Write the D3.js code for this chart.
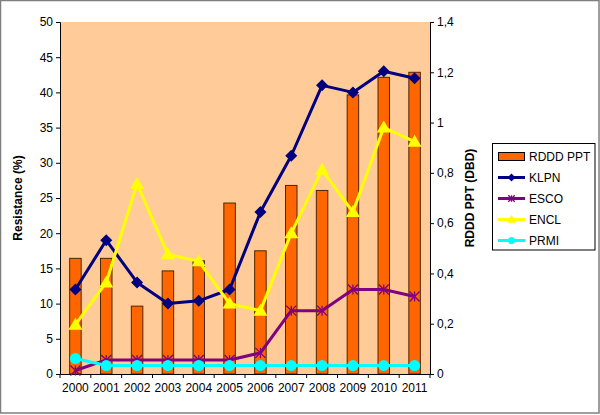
<!DOCTYPE html>
<html>
<head>
<meta charset="utf-8">
<title>Resistance chart</title>
<script src="https://d3js.org/d3.v7.min.js"></script>
<style>
  body { margin: 0; background: #fff; }
  svg text { font-family: "Liberation Sans", Arial, sans-serif; }
</style>
</head>
<body>
<svg id="chart" width="600" height="415"></svg>
<script>
// data
const years = ["2000","2001","2002","2003","2004","2005","2006","2007","2008","2009","2010","2011"];
const rddd = [0.46, 0.46, 0.27, 0.41, 0.45, 0.68, 0.49, 0.75, 0.73, 1.11, 1.18, 1.20];
const klpn = [12, 19, 13, 10, 10.4, 12, 23, 31, 41, 40, 43, 42];
const esco = [0.5, 2, 2, 2, 2, 2, 3, 9, 9, 12, 12, 11];
const encl = [7, 13, 27, 17, 16, 10, 9, 20, 29, 23, 35, 33];
const prmi = [2.2, 1.2, 1.2, 1.2, 1.2, 1.2, 1.2, 1.2, 1.2, 1.2, 1.2, 1.2];
const leftTicks = d3.range(0, 51, 5);
const rightTicks = [0, 0.2, 0.4, 0.6, 0.8, 1, 1.2, 1.4];

const svg = d3.select("#chart");
const m = {left: 60, right: 430, top: 22, bottom: 374};

// outer frame
svg.append("rect").attr("x", 0.5).attr("y", 0.5).attr("width", 598.5).attr("height", 412.5)
  .attr("fill", "#fff").attr("stroke", "#7f7f7f").attr("stroke-width", 1.5);

const x = d3.scaleBand().domain(years).range([m.left, m.right]);
const yL = d3.scaleLinear().domain([0, 50]).range([m.bottom, m.top]);
const yR = d3.scaleLinear().domain([0, 1.4]).range([m.bottom, m.top]);

svg.append("rect").attr("x", m.left).attr("y", m.top)
  .attr("width", m.right - m.left).attr("height", m.bottom - m.top)
  .attr("fill", "#ffcc99");

// bars
const bw = 11.5;
svg.append("g").selectAll("rect").data(rddd).join("rect")
  .attr("x", (d, i) => x(years[i]) + x.bandwidth() / 2 - bw / 2)
  .attr("y", d => yR(d))
  .attr("width", bw)
  .attr("height", d => yR(0) - yR(d))
  .attr("fill", "#ff6600").attr("stroke", "#4d2600").attr("stroke-width", 1);

// axes
const fmtR = d => d3.format("~g")(d).replace(".", ",");
const gl = svg.append("g").attr("transform", `translate(${m.left},0)`)
  .call(d3.axisLeft(yL).tickValues(leftTicks).tickSize(4).tickPadding(3));
const gr = svg.append("g").attr("transform", `translate(${m.right},0)`)
  .call(d3.axisRight(yR).tickValues(rightTicks).tickFormat(fmtR).tickSize(4).tickPadding(3));
const gx = svg.append("g").attr("transform", `translate(0,${m.bottom})`)
  .call(d3.axisBottom(x).tickSize(0).tickPadding(9));
// ticks between categories
gx.selectAll(".between").data(d3.range(years.length + 1)).join("line")
  .attr("x1", i => m.left + i * x.step()).attr("x2", i => m.left + i * x.step())
  .attr("y1", 0).attr("y2", 4).attr("stroke", "#000");
[gl, gr, gx].forEach(g => {
  g.selectAll("text").attr("font-size", 12).attr("fill", "#000")
   .attr("font-family", "Liberation Sans, Arial, sans-serif");
  g.selectAll("path.domain,line").attr("stroke", "#000");
});

svg.append("text").attr("transform", `translate(22,198) rotate(-90)`)
  .attr("text-anchor", "middle").attr("font-size", 12).attr("font-weight", "bold")
  .text("Resistance (%)");
svg.append("text").attr("transform", `translate(474,198) rotate(-90)`)
  .attr("text-anchor", "middle").attr("font-size", 12).attr("font-weight", "bold")
  .text("RDDD PPT (DBD)");

// series
const series = [
  {name: "KLPN", data: klpn, color: "#000080", marker: "diamond"},
  {name: "ESCO", data: esco, color: "#800080", marker: "star"},
  {name: "ENCL", data: encl, color: "#ffff00", marker: "triangle"},
  {name: "PRMI", data: prmi, color: "#00ffff", marker: "circle"}
];

function drawMarker(g, type, color, s) {
  if (type === "diamond") {
    const r = 6 * s;
    g.append("path").attr("d", `M0,${-r}L${r},0L0,${r}L${-r},0Z`).attr("fill", color);
  } else if (type === "triangle") {
    g.append("path").attr("d", `M0,${-7 * s}L${7 * s},${5 * s}L${-7 * s},${5 * s}Z`).attr("fill", color);
  } else if (type === "circle") {
    g.append("circle").attr("r", 5.5 * s).attr("fill", color);
  } else {
    const r = 5 * s;
    g.append("path").attr("d", `M${-r},${-r}L${r},${r}M${-r},${r}L${r},${-r}M0,${-r}L0,${r}`)
      .attr("stroke", color).attr("stroke-width", 1.3);
  }
}

const cx = i => x(years[i]) + x.bandwidth() / 2;
series.forEach(s => {
  const line = d3.line().x((d, i) => cx(i)).y(d => yL(d));
  svg.append("path").datum(s.data).attr("d", line)
    .attr("fill", "none").attr("stroke", s.color).attr("stroke-width", 3)
    .attr("stroke-linejoin", "round");
  s.data.forEach((d, i) => {
    const g = svg.append("g").attr("transform", `translate(${cx(i)},${yL(d)})`);
    drawMarker(g, s.marker, s.color, 1);
  });
});

// legend
const lg = svg.append("g");
lg.append("rect").attr("x", 492.5).attr("y", 143.5).attr("width", 102.5).attr("height", 106.5)
  .attr("fill", "#fff").attr("stroke", "#000").attr("stroke-width", 1);
const ly = [156.5, 177.5, 198.5, 219.5, 240.5];
const lgItem = lg.append("g").attr("transform", `translate(0,${ly[0]})`);
lgItem.append("rect").attr("x", 498.5).attr("y", -4).attr("width", 26).attr("height", 8)
  .attr("fill", "#ff6600").attr("stroke", "#000");
lgItem.append("text").attr("x", 529).attr("y", 4.5).attr("font-size", 12).text("RDDD PPT");
series.forEach((s, k) => {
  const g = lg.append("g").attr("transform", `translate(0,${ly[k + 1]})`);
  g.append("line").attr("x1", 498).attr("x2", 525).attr("stroke", s.color).attr("stroke-width", 3);
  const mk = g.append("g").attr("transform", "translate(511.5,0)");
  drawMarker(mk, s.marker, s.color, 0.65);
  g.append("text").attr("x", 529).attr("y", 4.5).attr("font-size", 12).text(s.name);
});
</script>
</body>
</html>
